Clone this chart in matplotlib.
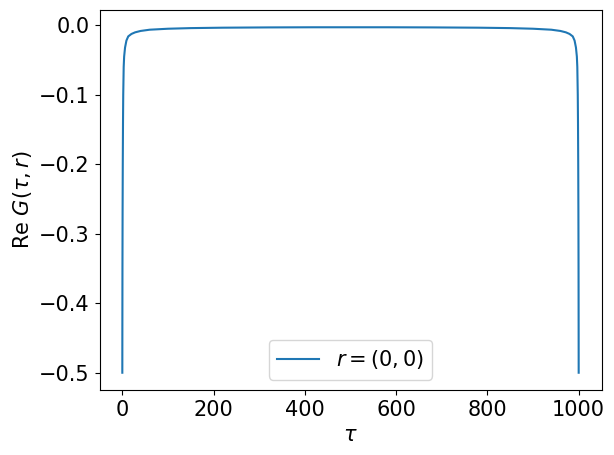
import matplotlib
matplotlib.use("Agg")
import matplotlib.pyplot as plt

tau = [0, 0.1, 0.3, 0.6, 1, 1.5, 2, 3, 4, 6, 9, 13, 20, 28, 40, 60, 100, 150, 220, 320, 420, 500,
       580, 680, 780, 850, 900, 940, 960, 972, 980, 987, 991, 994, 996, 997, 998, 998.5, 999, 999.4, 999.7, 999.9, 1000]
G = [-0.5, -0.44, -0.35, -0.27, -0.2, -0.14, -0.1, -0.06, -0.045, -0.032, -0.022, -0.016, -0.0125, -0.0102,
     -0.0082, -0.0064, -0.0050, -0.0041, -0.0035, -0.0031, -0.0029, -0.0029,
     -0.0029, -0.0031, -0.0035, -0.0041, -0.0050, -0.0064, -0.0082, -0.0102, -0.0125, -0.016, -0.022,
     -0.032, -0.045, -0.06, -0.1, -0.14, -0.2, -0.27, -0.35, -0.44, -0.5]
series_label = "$r=(0,0)$"

plt.rcParams['font.size'] = 15
fig = plt.figure(figsize=(6.14, 4.55), dpi=100)
ax = fig.add_axes([99.5/614, 65/455, (601.5-99.5)/614, 380/455])
ax.plot(tau, G, color='#1f77b4', lw=1.5, label=series_label)
ax.set_xlabel(r"$\tau$")
ax.set_ylabel(r"Re $G(\tau,r)$")
ax.legend(loc='lower center')
fig.savefig("out.png", dpi=100)
